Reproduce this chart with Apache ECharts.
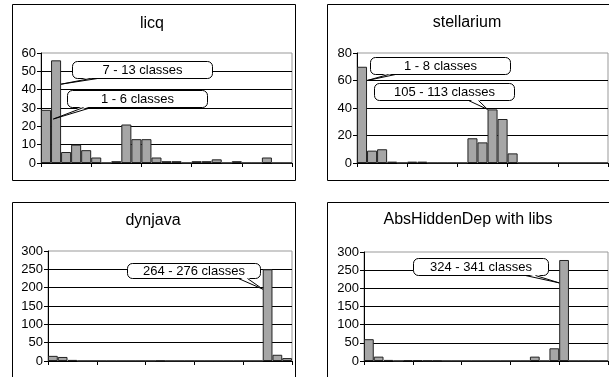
<!DOCTYPE html>
<html>
<head>
<meta charset="utf-8">
<script src="https://cdn.jsdelivr.net/npm/echarts@6/dist/echarts.min.js"></script>
<style>
html,body{margin:0;padding:0;background:#fff;}
#chart{width:609px;height:377px;}
</style>
</head>
<body>
<div id="chart"></div>
<script>
// ---- data ----
const bins = ['1','2','3','4','5','6','7','8','9','10','11','12','13','14','15','16','17','18','19','20','21','22','23','24','25'];
const titles = ['licq', 'stellarium', 'dynjava', 'AbsHiddenDep with libs'];
const licqCounts = [29,56,6,10,7,3,0,1,21,13,13,3,1,1,0,1,1,2,0,1,0,0,3,0,0];
const stellariumCounts = [70,9,10,1,0,1,1,0,0,0,0,18,15,39,32,7,0,0,0,0,0,0,0,0,0];
const dynjavaCounts = [14,11,3,0,0,0,0,0,0,0,0,1,0,0,0,0,0,0,0,0,0,0,250,17,8];
const absCounts = [60,12,3,0,2,2,1,1,0,0,0,0,0,0,0,0,0,12,0,35,278,0,0,0,0];
const yMax = [60, 80, 300, 300];
const yStep = [10, 20, 50, 50];
// callout texts and the (bin index, value) they point at
const licqNotes = ['7 - 13 classes', '1 - 6 classes'];
const licqNoteAt = [[1, 43], [1, 24]];
const stellariumNotes = ['1 - 8 classes', '105 - 113 classes'];
const stellariumNoteAt = [[0, 60], [13, 39]];
const dynjavaNotes = ['264 - 276 classes'];
const dynjavaNoteAt = [[22, 196]];
const absNotes = ['324 - 341 classes'];
const absNoteAt = [[20, 215]];

// ---- layout / style ----
const grids = [
  {left: 41, top: 53, width: 251, height: 110},
  {left: 357, top: 53, width: 251, height: 110},
  {left: 48, top: 251, width: 244, height: 110},
  {left: 364, top: 252, width: 244, height: 109}
];
const titlePos = [[152, 16], [467, 15], [153, 213], [468, 212]];
// callout box layout: shift (in bands) of tip, box centre offset from tip, size, tail base offsets from box left
const noteLayout = [
  [{shift: 0.5, dx: 81, dy: -15, w: 140, h: 17, t1: 18, t2: 25}, {shift: -0.27, dx: 84, dy: -21, w: 140, h: 17, t1: 16, t2: 24}],
  [{shift: 0.5, dx: 73, dy: -15.5, w: 140, h: 17, t1: 18, t2: 25}, {shift: -0.5, dx: -44, dy: -18, w: 140, h: 17, t1: 94, t2: 104}],
  [{shift: -0.5, dx: -69, dy: -19, w: 133, h: 15, t1: 111, t2: 120}],
  [{shift: -0.5, dx: -79, dy: -16, w: 135, h: 17, t1: 112, t2: 122}]
];
const FONT = '"Liberation Sans", Arial, sans-serif';
const seriesData = [licqCounts, stellariumCounts, dynjavaCounts, absCounts];
const notes = [licqNotes, stellariumNotes, dynjavaNotes, absNotes];
const notesAt = [licqNoteAt, stellariumNoteAt, dynjavaNoteAt, absNoteAt];

function calloutRenderer(texts, layout) {
  return function (params, api) {
    const c = layout[params.dataIndex];
    const p = api.coord([api.value(0), api.value(1)]);
    const band = api.size([1, 0])[0];
    const tx = p[0] + c.shift * band, ty = p[1];
    const bx = Math.round(tx + c.dx - c.w / 2) + 0.5;
    const by = Math.round(ty + c.dy - c.h / 2) + 0.5;
    const bb = by + c.h;
    const b1 = bx + c.t1, b2 = bx + c.t2;
    return {
      type: 'group',
      children: [
        {type: 'rect', shape: {x: bx, y: by, width: c.w, height: c.h, r: 5},
         style: {fill: '#fff', stroke: '#000', lineWidth: 1}},
        {type: 'polygon', shape: {points: [[b1, bb - 1.5], [b2, bb - 1.5], [tx, ty]]},
         style: {fill: '#fff', stroke: null}},
        {type: 'polyline', shape: {points: [[b1, bb], [tx, ty], [b2, bb]]},
         style: {stroke: '#000', lineWidth: 1, fill: null}},
        {type: 'text', style: {text: texts[params.dataIndex], x: bx + c.w / 2, y: by + c.h / 2 + 0.5,
         align: 'center', verticalAlign: 'middle', fontSize: 13, fontFamily: FONT, fill: '#000'}}
      ]
    };
  };
}

const option = {
  animation: false,
  backgroundColor: '#fff',
  title: titles.map((t, i) => ({
    text: t, left: titlePos[i][0], top: titlePos[i][1], textAlign: 'center', padding: 0,
    textStyle: {fontSize: 16, fontWeight: 'normal', fontFamily: FONT, color: '#000'}
  })),
  grid: grids.map(g => Object.assign({show: true, borderColor: '#999', borderWidth: 1, backgroundColor: 'transparent'}, g)),
  xAxis: grids.map((g, i) => ({
    type: 'category', gridIndex: i, data: bins, boundaryGap: true,
    axisLine: {show: true, lineStyle: {color: '#000', width: 1}},
    axisTick: {show: true, interval: 4, length: 4, lineStyle: {color: '#000'}},
    axisLabel: {show: false},
    splitLine: {show: false}
  })),
  yAxis: grids.map((g, i) => ({
    type: 'value', gridIndex: i, min: 0, max: yMax[i], interval: yStep[i],
    axisLine: {show: true, lineStyle: {color: '#000', width: 1}},
    axisTick: {show: true, length: 4, lineStyle: {color: '#000'}},
    axisLabel: {color: '#000', fontSize: 13, fontFamily: FONT, margin: 5},
    splitLine: {show: true, showMaxLine: false, lineStyle: {color: '#000', width: 1}}
  })),
  series: [].concat(
    seriesData.map((d, i) => ({
      type: 'bar', xAxisIndex: i, yAxisIndex: i, data: d, barCategoryGap: '0%',
      itemStyle: {color: '#a6a6a6', borderColor: '#222', borderWidth: 1},
      silent: true
    })),
    notes.map((n, i) => ({
      type: 'custom', xAxisIndex: i, yAxisIndex: i, data: notesAt[i], clip: false, z: 10,
      renderItem: calloutRenderer(n, noteLayout[i]), silent: true
    }))
  ),
  graphic: [
    {type: 'rect', shape: {x: 12.5, y: 4.5, width: 283, height: 176}, style: {fill: null, stroke: '#000', lineWidth: 1}, silent: true},
    {type: 'rect', shape: {x: 327.5, y: 4.5, width: 290, height: 176}, style: {fill: null, stroke: '#000', lineWidth: 1}, silent: true},
    {type: 'rect', shape: {x: 12.5, y: 202.5, width: 283, height: 200}, style: {fill: null, stroke: '#000', lineWidth: 1}, silent: true},
    {type: 'rect', shape: {x: 327.5, y: 202.5, width: 290, height: 200}, style: {fill: null, stroke: '#000', lineWidth: 1}, silent: true}
  ]
};

const chart = echarts.init(document.getElementById('chart'), null, {renderer: 'canvas'});
chart.setOption(option);
</script>
</body>
</html>
